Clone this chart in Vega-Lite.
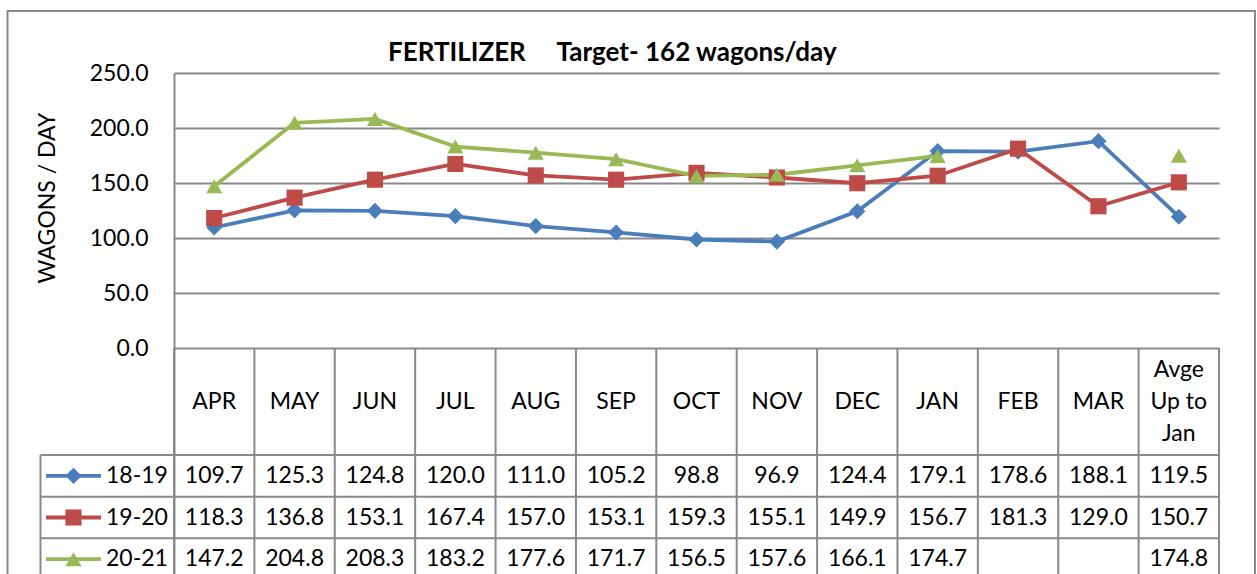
{
  "$schema": "https://vega.github.io/schema/vega-lite/v6.json",
  "width": 1045,
  "height": 507,
  "autosize": {"type": "none"},
  "padding": {"left": 174, "top": 73, "right": 38, "bottom": -6},
  "background": "white",
  "config": {
    "font": "Lato",
    "view": {"stroke": null},
    "title": {"color": "black"}
  },
  "title": {
    "text": "FERTILIZER\u00a0\u00a0\u00a0\u00a0\u00a0Target- 162 wagons/day",
    "anchor": "start",
    "frame": "group",
    "dx": 214,
    "offset": -77,
    "baseline": "alphabetic",
    "font": "Lato",
    "fontSize": 26,
    "fontWeight": "bold",
    "color": "black"
  },
  "datasets": {
    "main": [
      {"month": "APR", "series": "18-19", "value": 109.7},
      {"month": "MAY", "series": "18-19", "value": 125.3},
      {"month": "JUN", "series": "18-19", "value": 124.8},
      {"month": "JUL", "series": "18-19", "value": 120.0},
      {"month": "AUG", "series": "18-19", "value": 111.0},
      {"month": "SEP", "series": "18-19", "value": 105.2},
      {"month": "OCT", "series": "18-19", "value": 98.8},
      {"month": "NOV", "series": "18-19", "value": 96.9},
      {"month": "DEC", "series": "18-19", "value": 124.4},
      {"month": "JAN", "series": "18-19", "value": 179.1},
      {"month": "FEB", "series": "18-19", "value": 178.6},
      {"month": "MAR", "series": "18-19", "value": 188.1},
      {"month": "Avge\nUp to\nJan", "series": "18-19", "value": 119.5},
      {"month": "APR", "series": "19-20", "value": 118.3},
      {"month": "MAY", "series": "19-20", "value": 136.8},
      {"month": "JUN", "series": "19-20", "value": 153.1},
      {"month": "JUL", "series": "19-20", "value": 167.4},
      {"month": "AUG", "series": "19-20", "value": 157.0},
      {"month": "SEP", "series": "19-20", "value": 153.1},
      {"month": "OCT", "series": "19-20", "value": 159.3},
      {"month": "NOV", "series": "19-20", "value": 155.1},
      {"month": "DEC", "series": "19-20", "value": 149.9},
      {"month": "JAN", "series": "19-20", "value": 156.7},
      {"month": "FEB", "series": "19-20", "value": 181.3},
      {"month": "MAR", "series": "19-20", "value": 129.0},
      {"month": "Avge\nUp to\nJan", "series": "19-20", "value": 150.7},
      {"month": "APR", "series": "20-21", "value": 147.2},
      {"month": "MAY", "series": "20-21", "value": 204.8},
      {"month": "JUN", "series": "20-21", "value": 208.3},
      {"month": "JUL", "series": "20-21", "value": 183.2},
      {"month": "AUG", "series": "20-21", "value": 177.6},
      {"month": "SEP", "series": "20-21", "value": 171.7},
      {"month": "OCT", "series": "20-21", "value": 156.5},
      {"month": "NOV", "series": "20-21", "value": 157.6},
      {"month": "DEC", "series": "20-21", "value": 166.1},
      {"month": "JAN", "series": "20-21", "value": 174.7},
      {"month": "FEB", "series": "20-21", "value": null},
      {"month": "MAR", "series": "20-21", "value": null},
      {"month": "Avge\nUp to\nJan", "series": "20-21", "value": 174.8}
    ],
    "months": [
      {"month": "APR"}, {"month": "MAY"}, {"month": "JUN"}, {"month": "JUL"},
      {"month": "AUG"}, {"month": "SEP"}, {"month": "OCT"}, {"month": "NOV"},
      {"month": "DEC"}, {"month": "JAN"}, {"month": "FEB"}, {"month": "MAR"},
      {"month": "Avge\nUp to\nJan"}
    ],
    "series": [
      {"series": "18-19"}, {"series": "19-20"}, {"series": "20-21"}
    ]
  },
  "resolve": {"scale": {"y": "independent"}},
  "layer": [
    {
      "data": {"name": "main"},
      "mark": {"type": "line", "strokeWidth": 3.8, "invalid": "break-paths-filter-domains"},
      "encoding": {
        "x": {
          "field": "month", "type": "nominal", "sort": null,
          "scale": {"type": "band", "domain": ["APR","MAY","JUN","JUL","AUG","SEP","OCT","NOV","DEC","JAN","FEB","MAR","Avge\nUp to\nJan"], "paddingInner": 0, "paddingOuter": 0},
          "axis": null
        },
        "y": {
          "field": "value", "type": "quantitative",
          "scale": {"domain": [-210.4, 250], "nice": false, "zero": false},
          "axis": {
            "values": [0, 50, 100, 150, 200, 250], "format": ".1f",
            "title": "WAGONS / DAY", "titleFont": "Lato", "titleFontSize": 23,
            "titleFontWeight": "normal", "titleColor": "black",
            "titleX": -127, "titleY": 124.5, "titleAngle": -90,
            "titleAlign": "center", "titleBaseline": "middle",
            "labelFontSize": 23, "labelColor": "black", "labelFont": "Lato",
            "labelPadding": 26, "ticks": false, "tickSize": 0,
            "domainColor": "#898989", "domainWidth": 2,
            "grid": true, "gridColor": "#898989", "gridWidth": 2
          }
        },
        "color": {
          "field": "series", "type": "nominal",
          "scale": {"domain": ["18-19","19-20","20-21"], "range": ["#4A7EBB","#BE4B48","#98B954"]},
          "legend": null
        }
      }
    },
    {
      "data": {"name": "main"},
      "transform": [{"filter": "datum.value != null"}],
      "mark": {"type": "point", "filled": true, "opacity": 1, "size": 260},
      "encoding": {
        "x": {"field": "month", "type": "nominal", "sort": null, "scale": {"type": "band", "paddingInner": 0, "paddingOuter": 0}, "axis": null},
        "y": {"field": "value", "type": "quantitative", "scale": {"domain": [-210.4, 250], "nice": false, "zero": false}, "axis": null},
        "color": {"field": "series", "type": "nominal", "legend": null},
        "shape": {
          "field": "series", "type": "nominal",
          "scale": {"domain": ["18-19","19-20","20-21"], "range": ["diamond","square","triangle-up"]},
          "legend": null
        }
      }
    },
    {
      "data": {"name": "months"},
      "mark": {"type": "rule", "color": "#898989", "strokeWidth": 2},
      "encoding": {
        "x": {"field": "month", "type": "nominal", "sort": null, "bandPosition": 0, "scale": {"type": "band", "paddingInner": 0, "paddingOuter": 0}, "axis": null},
        "y": {"datum": 0, "type": "quantitative", "scale": {"domain": [-210.4, 250], "nice": false, "zero": false}, "axis": null},
        "y2": {"value": "height"}
      }
    },
    {
      "data": {"name": "months"},
      "transform": [{"filter": "datum.month == 'Avge\\nUp to\\nJan'"}],
      "mark": {"type": "rule", "color": "#898989", "strokeWidth": 2},
      "encoding": {
        "x": {"field": "month", "type": "nominal", "sort": null, "bandPosition": 1, "scale": {"type": "band", "paddingInner": 0, "paddingOuter": 0}, "axis": null},
        "y": {"datum": 0, "type": "quantitative", "scale": {"domain": [-210.4, 250], "nice": false, "zero": false}, "axis": null},
        "y2": {"value": "height"}
      }
    },
    {
      "data": {"name": "months"},
      "transform": [{"filter": "datum.month != 'Avge\\nUp to\\nJan'"}],
      "mark": {"type": "text", "fontSize": 23, "color": "black", "baseline": "middle", "align": "center"},
      "encoding": {
        "x": {"field": "month", "type": "nominal", "sort": null, "scale": {"type": "band", "paddingInner": 0, "paddingOuter": 0}, "axis": null},
        "y": {"datum": "header", "type": "nominal", "scale": {"type": "band", "domain": ["header"], "range": [275.3, 382], "paddingInner": 0, "paddingOuter": 0}, "axis": null},
        "text": {"field": "month", "type": "nominal"}
      }
    },
    {
      "data": {"name": "months"},
      "transform": [{"filter": "datum.month == 'Avge\\nUp to\\nJan'"}],
      "mark": {"type": "text", "fontSize": 23, "color": "black", "baseline": "middle", "align": "center", "lineBreak": "\n", "lineHeight": 32, "dy": -32},
      "encoding": {
        "x": {"field": "month", "type": "nominal", "sort": null, "scale": {"type": "band", "paddingInner": 0, "paddingOuter": 0}, "axis": null},
        "y": {"datum": "header", "type": "nominal", "scale": {"type": "band", "domain": ["header"], "range": [275.3, 382], "paddingInner": 0, "paddingOuter": 0}, "axis": null},
        "text": {"field": "month", "type": "nominal"}
      }
    },
    {
      "data": {"name": "series"},
      "mark": {"type": "rule", "color": "#898989", "strokeWidth": 2, "xOffset": -133.5},
      "encoding": {
        "y": {"field": "series", "type": "nominal", "bandPosition": 0, "scale": {"type": "band", "domain": ["18-19","19-20","20-21"], "range": [382, 507], "paddingInner": 0, "paddingOuter": 0}, "axis": null},
        "x": {"datum": "APR", "type": "nominal", "bandPosition": 0, "axis": null},
        "x2": {"datum": "Avge\nUp to\nJan", "bandPosition": 1}
      }
    },
    {
      "data": {"name": "series"},
      "transform": [{"filter": "datum.series == '18-19'"}],
      "mark": {"type": "rule", "color": "#898989", "strokeWidth": 2, "xOffset": -133.5},
      "encoding": {
        "y": {"field": "series", "type": "nominal", "bandPosition": 0, "scale": {"type": "band", "domain": ["18-19","19-20","20-21"], "range": [382, 507], "paddingInner": 0, "paddingOuter": 0}, "axis": null},
        "y2": {"value": "height"},
        "x": {"datum": "APR", "type": "nominal", "bandPosition": 0, "axis": null}
      }
    },
    {
      "data": {"name": "main"},
      "transform": [{"filter": "datum.value != null"}],
      "mark": {"type": "text", "fontSize": 23, "color": "black", "baseline": "middle", "align": "center"},
      "encoding": {
        "x": {"field": "month", "type": "nominal", "sort": null, "scale": {"type": "band", "paddingInner": 0, "paddingOuter": 0}, "axis": null},
        "y": {"field": "series", "type": "nominal", "scale": {"type": "band", "domain": ["18-19","19-20","20-21"], "range": [382, 507], "paddingInner": 0, "paddingOuter": 0}, "axis": null},
        "text": {"field": "value", "type": "quantitative", "format": ".1f"}
      }
    },
    {
      "data": {"name": "series"},
      "mark": {"type": "rule", "strokeWidth": 3.8, "xOffset": -128, "x2Offset": -73},
      "encoding": {
        "y": {"field": "series", "type": "nominal", "scale": {"type": "band", "domain": ["18-19","19-20","20-21"], "range": [382, 507], "paddingInner": 0, "paddingOuter": 0}, "axis": null},
        "x": {"datum": "APR", "type": "nominal", "bandPosition": 0, "axis": null},
        "x2": {"datum": "APR", "bandPosition": 0},
        "color": {"field": "series", "type": "nominal", "legend": null}
      }
    },
    {
      "data": {"name": "series"},
      "mark": {"type": "point", "filled": true, "opacity": 1, "size": 260, "xOffset": -100.5},
      "encoding": {
        "y": {"field": "series", "type": "nominal", "scale": {"type": "band", "domain": ["18-19","19-20","20-21"], "range": [382, 507], "paddingInner": 0, "paddingOuter": 0}, "axis": null},
        "x": {"datum": "APR", "type": "nominal", "bandPosition": 0, "axis": null},
        "color": {"field": "series", "type": "nominal", "legend": null},
        "shape": {"field": "series", "type": "nominal", "legend": null}
      }
    },
    {
      "data": {"name": "series"},
      "mark": {"type": "text", "fontSize": 23, "color": "black", "align": "left", "baseline": "middle", "xOffset": -68},
      "encoding": {
        "y": {"field": "series", "type": "nominal", "scale": {"type": "band", "domain": ["18-19","19-20","20-21"], "range": [382, 507], "paddingInner": 0, "paddingOuter": 0}, "axis": null},
        "x": {"datum": "APR", "type": "nominal", "bandPosition": 0, "axis": null},
        "text": {"field": "series", "type": "nominal"}
      }
    },
    {
      "data": {"name": "series"},
      "transform": [{"filter": "datum.series == '18-19'"}],
      "mark": {"type": "rect", "fill": null, "fillOpacity": 0, "stroke": "#898989", "strokeWidth": 2, "xOffset": -166.5, "x2Offset": 36, "yOffset": -62, "y2Offset": 20},
      "encoding": {
        "x": {"datum": "APR", "type": "nominal", "bandPosition": 0, "axis": null},
        "x2": {"datum": "Avge\nUp to\nJan", "bandPosition": 1},
        "y": {"datum": 250, "type": "quantitative", "scale": {"domain": [-210.4, 250], "nice": false, "zero": false}, "axis": null},
        "y2": {"value": "height"}
      }
    }
  ]
}
